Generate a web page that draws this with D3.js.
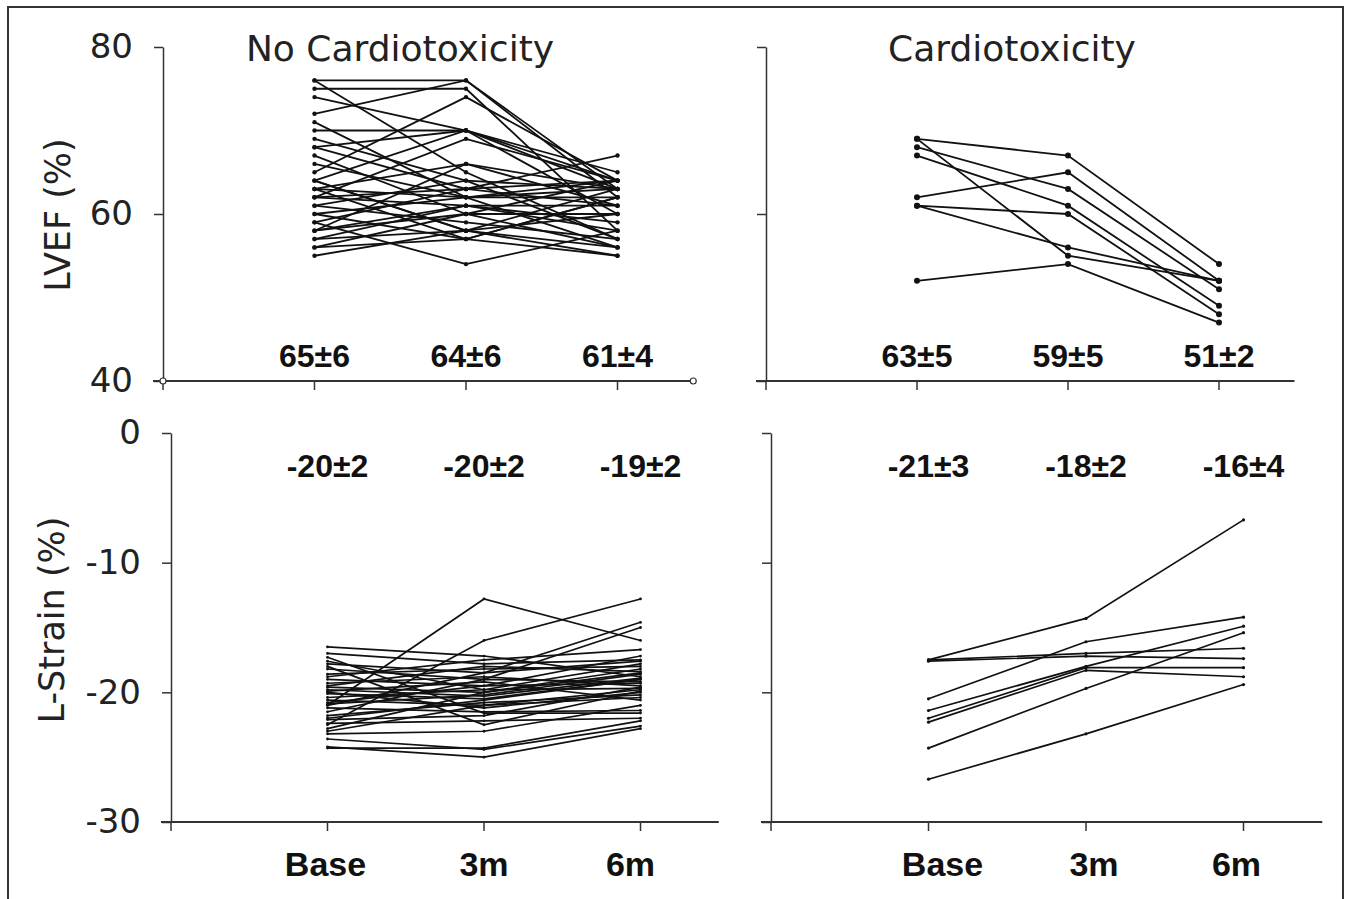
<!DOCTYPE html>
<html>
<head>
<meta charset="utf-8">
<script src="https://cdn.jsdelivr.net/npm/d3@7"></script>
<style>
  body { margin: 0; background: #fff; }
  svg { display: block; }
</style>
</head>
<body>
<svg id="chart" width="1352" height="899"></svg>
<script>
// ---- data: one row per patient, [Base, 3m, 6m] ----
const timepoints = ["Base", "3m", "6m"];

// LVEF (%) - no cardiotoxicity
const lvefNoCardio = [
  [76, 76, 63], [75, 75, 58], [76, 65, 57], [72, 76, 62], [74, 70, 60],
  [71, 62, 56], [70, 70, 64], [68, 63, 67], [68, 70, 63], [67, 60, 56],
  [65, 74, 64], [64, 70, 65], [64, 58, 55], [63, 66, 61], [63, 62, 64],
  [63, 57, 62], [62, 69, 64], [62, 61, 59], [61, 64, 63], [61, 59, 57],
  [60, 62, 62], [59, 54, 58], [59, 63, 64], [58, 60, 60], [58, 66, 63],
  [57, 58, 56], [57, 61, 61], [56, 60, 64], [56, 57, 55], [55, 58, 60],
  [66, 62, 63], [69, 64, 57], [60, 57, 62], [58, 61, 58], [64, 58, 63],
  [62, 63, 61]
];
// LVEF (%) - cardiotoxicity
const lvefCardio = [
  [69, 67, 54], [69, 55, 52], [68, 63, 51], [67, 61, 49],
  [62, 65, 52], [61, 60, 48], [61, 56, 52], [52, 54, 47]
];
// L-Strain (%) - no cardiotoxicity
const strainNoCardio = [
  [-21.0, -12.8, -16.0], [-22.5, -16.0, -12.8], [-16.5, -17.2, -18.8], [-17.0, -17.8, -17.5],
  [-17.8, -18.5, -14.6], [-18.2, -19.0, -15.0], [-18.6, -18.2, -18.0], [-19.0, -19.5, -17.2],
  [-19.3, -18.8, -19.5], [-19.6, -20.0, -18.5], [-19.9, -19.2, -20.6], [-20.1, -20.5, -19.0],
  [-20.4, -19.8, -17.8], [-20.6, -21.0, -19.8], [-20.9, -20.2, -18.6], [-21.2, -21.5, -21.4],
  [-21.5, -19.0, -19.2], [-21.8, -20.8, -20.2], [-22.1, -21.8, -19.6], [-22.4, -22.2, -22.0],
  [-22.8, -20.0, -18.2], [-23.2, -23.0, -21.0], [-23.6, -24.4, -22.6], [-24.2, -25.0, -22.8],
  [-24.3, -24.3, -22.2], [-17.3, -21.6, -21.6], [-18.0, -22.5, -19.9], [-18.8, -17.5, -16.7],
  [-19.5, -18.0, -18.4], [-20.0, -21.2, -20.0], [-20.8, -19.5, -19.3], [-21.0, -18.5, -17.6],
  [-22.0, -20.6, -19.0], [-23.0, -21.0, -20.4], [-17.6, -19.8, -19.7], [-19.8, -20.3, -18.9]
];
// L-Strain (%) - cardiotoxicity
const strainCardio = [
  [-17.5, -14.3, -6.7], [-17.5, -17.0, -16.6], [-17.6, -17.2, -17.4],
  [-20.5, -16.1, -14.2], [-21.4, -18.0, -14.9], [-22.0, -18.1, -18.1],
  [-22.3, -18.3, -18.8], [-24.3, -19.7, -15.4], [-26.7, -23.2, -19.4]
];

// mean ± SD printed above / below each timepoint
const lvefNoStats = ["65±6", "64±6", "61±4"];
const lvefCardioStats = ["63±5", "59±5", "51±2"];
const strainNoStats = ["-20±2", "-20±2", "-19±2"];
const strainCardioStats = ["-21±3", "-18±2", "-16±4"];

const lvefTicks = [40, 60, 80];
const strainTicks = [-30, -20, -10, 0];

// ---- layout ----
const svg = d3.select("#chart");

svg.append("rect")
  .attr("x", 8).attr("y", 7)
  .attr("width", 1335).attr("height", 893)
  .attr("fill", "none")
  .attr("stroke", "#333")
  .attr("stroke-width", 2);

const panels = [
  { rows: lvefNoCardio, stats: lvefNoStats, ticks: lvefTicks, domain: [40, 80], range: [381, 47],
    x0: 163, step: 151.5, labels: true, title: "No Cardiotoxicity", titleX: 400, statY: 367, ends: true, r: 2.2, sw: 1.8 },
  { rows: lvefCardio, stats: lvefCardioStats, ticks: lvefTicks, domain: [40, 80], range: [381, 47],
    x0: 766, step: 151, labels: false, title: "Cardiotoxicity", titleX: 1012, statY: 367, ends: false, r: 3, sw: 1.8 },
  { rows: strainNoCardio, stats: strainNoStats, ticks: strainTicks, domain: [-30, 0], range: [822, 433],
    x0: 171, step: 156.5, labels: true, statY: 477, cats: true, catShift: [-2, 0, -10], r: 1.4, sw: 1.7 },
  { rows: strainCardio, stats: strainCardioStats, ticks: strainTicks, domain: [-30, 0], range: [822, 433],
    x0: 771, step: 157.5, labels: false, statY: 477, cats: true, catShift: [14, 8, -7], r: 1.6, sw: 1.7 }
];

panels.forEach(drawPanel);

// y-axis titles
svg.append("text")
  .attr("transform", "translate(70,215) rotate(-90)")
  .attr("text-anchor", "middle")
  .style("font-family", "DejaVu Sans")
  .style("font-size", "35px")
  .attr("fill", "#222")
  .text("LVEF (%)");

svg.append("text")
  .attr("transform", "translate(64,620) rotate(-90)")
  .attr("text-anchor", "middle")
  .style("font-family", "DejaVu Sans")
  .style("font-size", "35px")
  .attr("fill", "#222")
  .text("L-Strain (%)");

function drawPanel(p) {
  const x = d3.scaleLinear().domain([0, 3.5]).range([p.x0, p.x0 + 3.5 * p.step]);
  const y = d3.scaleLinear().domain(p.domain).range(p.range);
  const g = svg.append("g");
  const yBase = y(p.domain[0]);

  // y axis
  const yAxis = d3.axisLeft(y)
    .tickValues(p.ticks)
    .tickSize(9)
    .tickSizeOuter(0)
    .tickPadding(21)
    .tickFormat(p.labels ? (d) => String(d) : "");
  const ya = g.append("g")
    .attr("transform", `translate(${p.x0},0)`)
    .call(yAxis);
  ya.selectAll("path, line").attr("stroke", "#333").attr("stroke-width", 1.5);
  ya.selectAll("text")
    .style("font-family", "DejaVu Sans")
    .style("font-size", "34px")
    .attr("fill", "#222");

  // x axis (own line so it pokes past the y axis on the left)
  g.append("line")
    .attr("x1", p.x0 - 10).attr("x2", x(3.5))
    .attr("y1", yBase).attr("y2", yBase)
    .attr("stroke", "#333").attr("stroke-width", 2);
  g.selectAll("line.xtick")
    .data([0, 1, 2, 3])
    .join("line")
    .attr("class", "xtick")
    .attr("x1", (d) => x(d)).attr("x2", (d) => x(d))
    .attr("y1", yBase).attr("y2", yBase + 9)
    .attr("stroke", "#333").attr("stroke-width", 1.5);

  if (p.ends) {
    g.selectAll("circle.end")
      .data([0, 3.5])
      .join("circle")
      .attr("class", "end")
      .attr("cx", (d) => x(d)).attr("cy", yBase)
      .attr("r", 3)
      .attr("fill", "#fff").attr("stroke", "#333").attr("stroke-width", 1.2);
  }

  // patient lines
  const line = d3.line()
    .x((d, i) => x(i + 1))
    .y((d) => y(d));

  g.selectAll("path.series")
    .data(p.rows)
    .join("path")
    .attr("class", "series")
    .attr("d", line)
    .attr("fill", "none")
    .attr("stroke", "#111")
    .attr("stroke-width", p.sw);

  const pts = p.rows.flatMap((row) => row.map((v, i) => ({ i: i + 1, v: v })));
  g.selectAll("circle.pt")
    .data(pts)
    .join("circle")
    .attr("class", "pt")
    .attr("cx", (d) => x(d.i))
    .attr("cy", (d) => y(d.v))
    .attr("r", p.r)
    .attr("fill", "#111");

  // mean ± SD
  g.selectAll("text.stat")
    .data(p.stats)
    .join("text")
    .attr("class", "stat")
    .attr("x", (d, i) => x(i + 1))
    .attr("y", p.statY)
    .attr("text-anchor", "middle")
    .style("font-family", "Liberation Sans, Arial")
    .style("font-weight", "bold")
    .style("font-size", "32px")
    .attr("fill", "#111")
    .text((d) => d);

  if (p.title) {
    g.append("text")
      .attr("x", p.titleX).attr("y", 61)
      .attr("text-anchor", "middle")
      .style("font-family", "DejaVu Sans")
      .style("font-size", "36px")
      .attr("fill", "#222")
      .text(p.title);
  }

  if (p.cats) {
    g.selectAll("text.cat")
      .data(timepoints)
      .join("text")
      .attr("class", "cat")
      .attr("x", (d, i) => x(i + 1) + p.catShift[i])
      .attr("y", 876)
      .attr("text-anchor", "middle")
      .style("font-family", "Liberation Sans, Arial")
      .style("font-weight", "bold")
      .style("font-size", "34px")
      .attr("fill", "#111")
      .text((d) => d);
  }
}
</script>
</body>
</html>
